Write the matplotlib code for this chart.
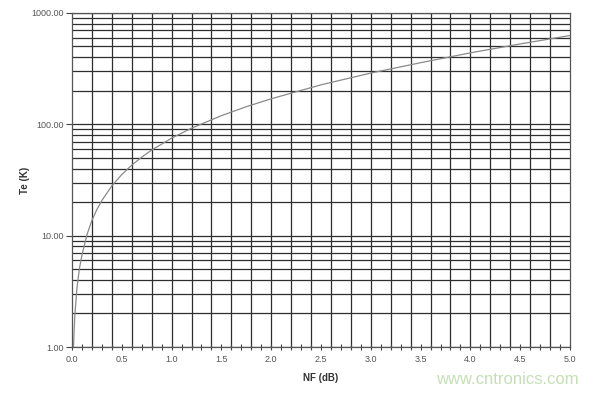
import matplotlib.pyplot as plt
from matplotlib.ticker import MultipleLocator, FixedLocator, LogLocator, FormatStrFormatter, NullFormatter

plt.rcParams['font.family'] = ['Liberation Sans', 'DejaVu Sans']

# noise figure (dB) vs noise temperature (K)
nf = [0.015, 0.02, 0.03, 0.05, 0.075, 0.1, 0.15, 0.2, 0.25, 0.3, 0.4, 0.5,
      0.6, 0.7, 0.8, 1.0, 1.2, 1.5, 1.75, 2.0, 2.5, 3.0, 3.5, 4.0, 4.5, 5.0]
te = [1.0, 1.34, 2.0, 3.4, 5.1, 6.7, 10.2, 13.7, 17.2, 20.7, 28.0, 35.4,
      43.0, 50.7, 58.7, 75.1, 92.3, 119.6, 144.0, 169.6, 226.3, 288.6, 357.6, 438.4, 527.1, 627.0]

x_labels = [0.0, 0.5, 1.0, 1.5, 2.0, 2.5, 3.0, 3.5, 4.0, 4.5, 5.0]

fig = plt.figure(figsize=(6, 3.93), dpi=100)
ax = fig.add_axes([0.12, 0.117, 0.83, 0.85])

ax.plot(nf, te, color='#8a8a8a', lw=0.9, zorder=3)

ax.set_yscale('log')
ax.set_xlim(0, 5)
ax.set_ylim(1, 1000)

ax.xaxis.set_major_locator(FixedLocator(x_labels))
ax.xaxis.set_major_formatter(FormatStrFormatter('%.1f'))
ax.xaxis.set_minor_locator(MultipleLocator(0.1))
ax.yaxis.set_major_locator(LogLocator(base=10, numticks=10))
ax.yaxis.set_major_formatter(FormatStrFormatter('%.2f'))
ax.yaxis.set_minor_locator(LogLocator(base=10, subs=range(2, 10), numticks=20))
ax.yaxis.set_minor_formatter(NullFormatter())

# vertical grid every 0.2, horizontal grid at every log step
for gx in [i * 0.2 for i in range(1, 25)]:
    ax.axvline(gx, color='#2e2e2e', lw=0.9, zorder=1)
ax.grid(True, which='both', axis='y', color='#2e2e2e', lw=0.9, zorder=1)

for s in ax.spines.values():
    s.set_color('#555555')
    s.set_linewidth(0.9)

ax.tick_params(axis='x', which='major', direction='inout', length=5, width=0.8,
               color='#444444', labelsize=6.5, labelcolor='#555555', pad=3)
ax.tick_params(axis='x', which='minor', direction='inout', length=4, width=0.8, color='#444444')
ax.tick_params(axis='y', which='major', direction='out', length=4, width=0.8,
               color='#444444', labelsize=6.5, labelcolor='#555555', pad=2)
ax.tick_params(axis='y', which='minor', length=0)

ax.set_xlabel('NF (dB)', fontsize=7, fontweight='bold', color='#333333', labelpad=7)
ax.set_ylabel('Te (K)', fontsize=7, fontweight='bold', color='#333333', labelpad=1)

fig.text(0.965, 0.035, 'www.cntronics.com', ha='right', va='center',
         fontsize=12, color='#c5dfb5')

fig.savefig('out.png', dpi=100, facecolor='white')
